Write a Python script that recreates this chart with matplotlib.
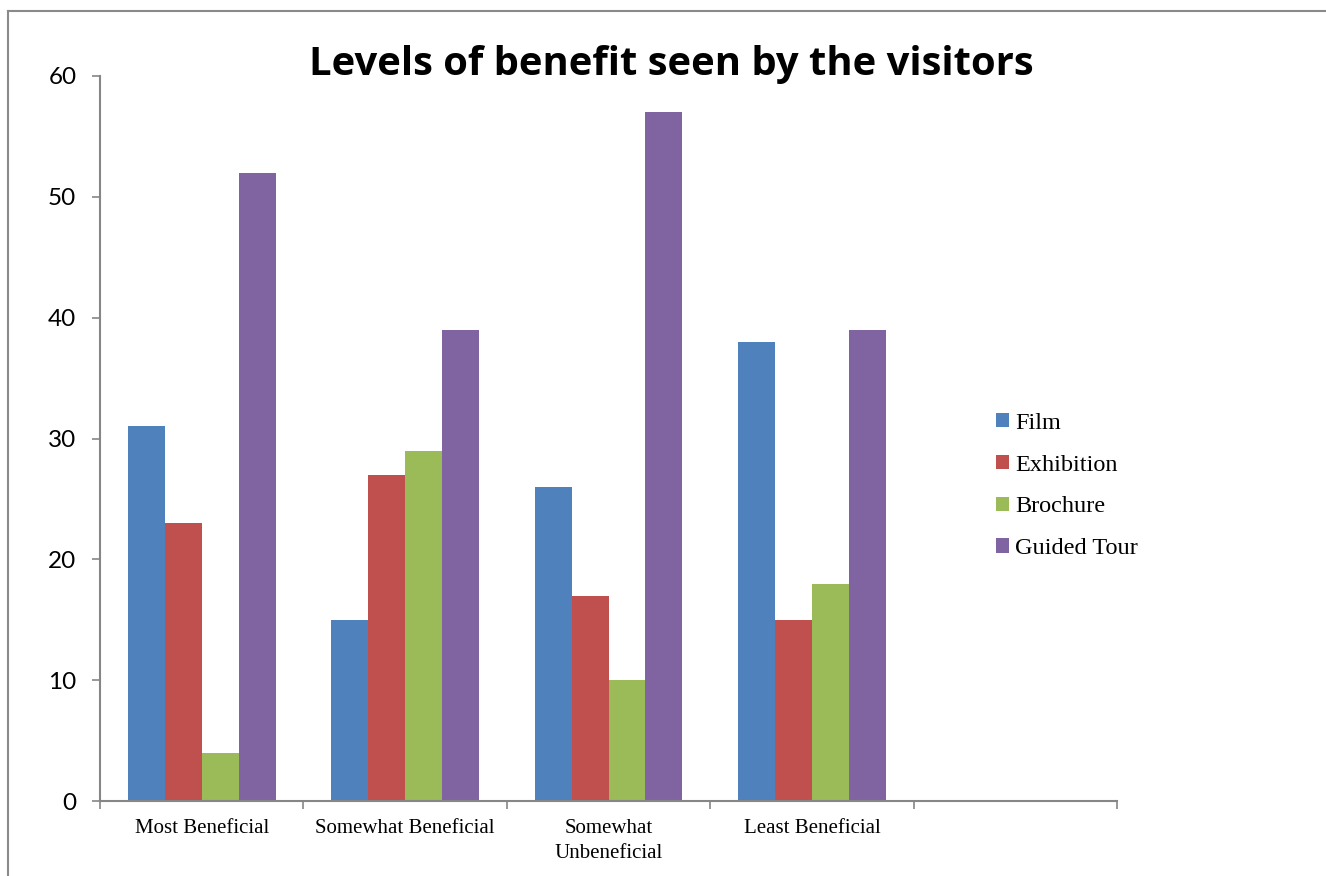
import matplotlib
matplotlib.use("Agg")
import matplotlib.pyplot as plt
from matplotlib.lines import Line2D
import numpy as np

categories = ["Most Beneficial", "Somewhat Beneficial", "Somewhat\nUnbeneficial", "Least Beneficial", ""]
series_names = ["Film", "Exhibition", "Brochure", "Guided Tour"]
film = [31, 15, 26, 38]
exhibition = [23, 27, 17, 15]
brochure = [4, 29, 10, 18]
guided_tour = [52, 39, 57, 39]
y_ticks = [0, 10, 20, 30, 40, 50, 60]

colors = ["#4F81BD", "#C0504D", "#9BBB59", "#8064A2"]
axis_gray = "#868686"

fig = plt.figure(figsize=(13.26, 8.76), dpi=100)
ax = fig.add_axes([100 / 1326, 1 - 801 / 876, 1017 / 1326, 725 / 876])

# Excel-style clustered columns: gap width 150% -> bar width 1/5.5
width = 1 / 5.5
x = np.arange(len(film))
for i, (vals, name) in enumerate(zip([film, exhibition, brochure, guided_tour], series_names)):
    ax.bar(x + (i - 1.5) * width, vals, width, color=colors[i], label=name, linewidth=0)

ax.set_xlim(-0.5, len(categories) - 0.5)
ax.set_ylim(0, 60)
ax.set_yticks(y_ticks)
ax.set_yticklabels([str(v) for v in y_ticks], fontfamily="Lato", fontsize=17.5)
ax.tick_params(axis="y", direction="out", length=6, width=1.2, color=axis_gray, pad=11)

ax.set_xticks(np.arange(len(categories)))
ax.set_xticklabels(categories, fontfamily="Liberation Serif", fontsize=15, linespacing=1.4, va="top")
ax.tick_params(axis="x", which="major", length=0, pad=13)
ax.set_xticks(np.arange(len(categories) + 1) - 0.5, minor=True)
ax.tick_params(axis="x", which="minor", direction="out", length=6, width=1.2, color=axis_gray)

for s in ("top", "right"):
    ax.spines[s].set_visible(False)
for s in ("left", "bottom"):
    ax.spines[s].set_color(axis_gray)
    ax.spines[s].set_linewidth(1.5)

fig.text(671 / 1326, 1 - 65 / 876, "Levels of benefit seen by the visitors",
         fontfamily="Open Sans", fontweight="bold", fontsize=28.8, ha="center", va="center")

leg = ax.legend(loc="center left", bbox_to_anchor=(996 / 1326, 1 - 486 / 876),
                bbox_transform=fig.transFigure, frameon=False,
                prop={"family": "Liberation Serif", "size": 17.5},
                handlelength=0.55, handleheight=0.55, handletextpad=0.25, labelspacing=0.86,
                borderpad=0, borderaxespad=0)

# outer chart frame
fig.add_artist(Line2D([8 / 1326, 8 / 1326], [0, 1 - 11 / 876], transform=fig.transFigure,
                      color="#8a8a8a", linewidth=1.5))
fig.add_artist(Line2D([8 / 1326, 1], [1 - 11 / 876, 1 - 11 / 876], transform=fig.transFigure,
                      color="#8a8a8a", linewidth=1.5))

fig.savefig("out.png", dpi=100)
